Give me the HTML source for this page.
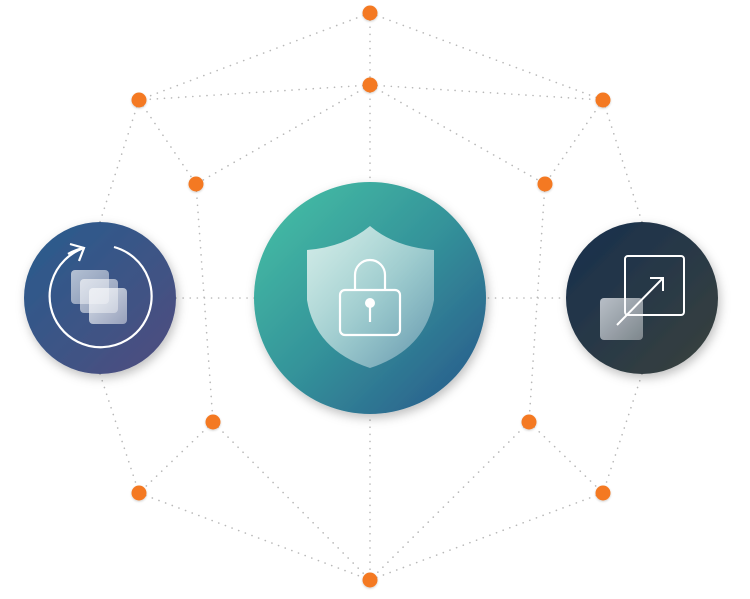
<!DOCTYPE html>
<html><head><style>html,body{margin:0;padding:0;background:#fff;}svg{display:block}</style></head>
<body>
<svg width="750" height="599" viewBox="0 0 750 599" xmlns="http://www.w3.org/2000/svg">
<defs>
<linearGradient id="gc" x1="0" y1="0" x2="1" y2="1"><stop offset="0" stop-color="#48c4a6"/><stop offset="0.5" stop-color="#34939a"/><stop offset="1" stop-color="#28548a"/></linearGradient>
<linearGradient id="gl" x1="0" y1="0" x2="1" y2="1"><stop offset="0" stop-color="#275d8e"/><stop offset="1" stop-color="#504c7e"/></linearGradient>
<linearGradient id="gr" x1="0" y1="0" x2="1" y2="1"><stop offset="0" stop-color="#172f4e"/><stop offset="1" stop-color="#3a423e"/></linearGradient>
<linearGradient id="gs" x1="0" y1="0" x2="1" y2="1"><stop offset="0" stop-color="#e4f2f0" stop-opacity="0.9"/><stop offset="1" stop-color="#ffffff" stop-opacity="0.25"/></linearGradient>
<linearGradient id="gq" x1="0" y1="0" x2="1" y2="1"><stop offset="0" stop-color="#f0f2f6" stop-opacity="0.85"/><stop offset="1" stop-color="#ffffff" stop-opacity="0.45"/></linearGradient>
<filter id="sh" x="-30%" y="-30%" width="160%" height="160%"><feDropShadow dx="2" dy="4" stdDeviation="5" flood-color="#000" flood-opacity="0.25"/></filter>
<filter id="ds"><feDropShadow dx="0" dy="1" stdDeviation="1" flood-color="#000" flood-opacity="0.2"/></filter>
</defs>
<g stroke="#b8b8b8" stroke-width="1.6" stroke-dasharray="0.1 7" stroke-linecap="round" fill="none">
<path d="M370 13L139 100M370 13L603 100M370 13V85M370 85L139 100M370 85L603 100M370 85L196 184M370 85L545 184M139 100L196 184M603 100L545 184M139 100L100 222M603 100L642 222M196 184L213 422M545 184L529 422M176 298H566M370 85V182M370 413V580M100 374L139 493M642 374L603 493M213 422L139 493M213 422L370 580M529 422L603 493M529 422L370 580M139 493L370 580M603 493L370 580"/>
</g>
<circle cx="100" cy="298" r="76" fill="url(#gl)" filter="url(#sh)"/>
<circle cx="370" cy="298" r="116" fill="url(#gc)" filter="url(#sh)"/>
<circle cx="642" cy="298" r="76" fill="url(#gr)" filter="url(#sh)"/>
<!-- left icon -->
<g stroke="#fff" stroke-width="2.2" fill="none">
<path d="M114 247 A51 51 0 1 1 84 248"/>
<path d="M68 254 A51 51 0 0 1 84 248"/>
<path d="M70 244L84 248L79 261"/>
</g>
<rect x="71" y="270" width="38" height="34" rx="4" fill="url(#gq)" opacity="0.8"/>
<rect x="80" y="279" width="38" height="34" rx="4" fill="url(#gq)" opacity="0.85"/>
<rect x="89" y="288" width="38" height="36" rx="4" fill="url(#gq)"/>
<!-- shield -->
<path d="M370 226 Q345 247 307 250 L307 300 Q315 350 370 368 Q425 350 434 300 L434 250 Q395 247 370 226Z" fill="url(#gs)"/>
<g stroke="#fff" stroke-width="2.2" fill="none">
<path d="M355 290V275A15 15 0 0 1 385 275V290"/>
<rect x="340" y="290" width="60" height="45" rx="5"/>
<line x1="370" y1="305" x2="370" y2="322"/>
</g>
<circle cx="370" cy="303" r="5" fill="#fff"/>
<!-- right icon -->
<rect x="625" y="256" width="59" height="59" rx="3" fill="none" stroke="#fff" stroke-width="2"/>
<rect x="600" y="298" width="43" height="42" rx="4" fill="url(#gq)" opacity="0.85"/>
<g stroke="#fff" stroke-width="2" fill="none"><line x1="617" y1="325" x2="663" y2="278"/><path d="M650 278H663V291"/></g>
<g fill="#f47920" filter="url(#ds)">
<circle cx="370" cy="13" r="7.5"/><circle cx="370" cy="85" r="7.5"/><circle cx="139" cy="100" r="7.5"/><circle cx="603" cy="100" r="7.5"/><circle cx="196" cy="184" r="7.5"/><circle cx="545" cy="184" r="7.5"/><circle cx="213" cy="422" r="7.5"/><circle cx="529" cy="422" r="7.5"/><circle cx="139" cy="493" r="7.5"/><circle cx="603" cy="493" r="7.5"/><circle cx="370" cy="580" r="7.5"/>
</g>
</svg>
</body></html>
